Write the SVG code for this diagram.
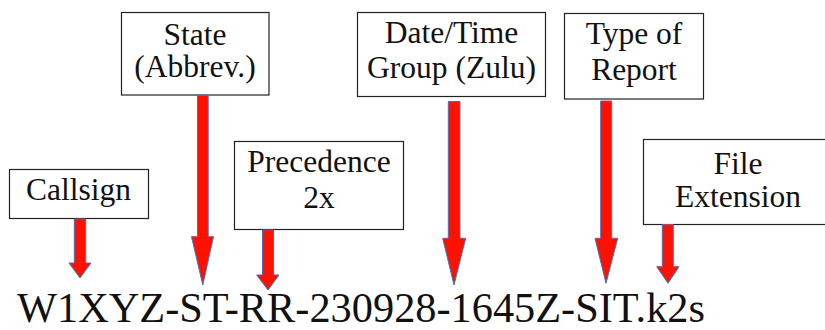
<svg xmlns="http://www.w3.org/2000/svg" width="825" height="330" viewBox="0 0 825 330">
<style>
.box{fill:#fff;stroke:#222;stroke-width:1.2}
.lbl{font-size:31.5px;fill:#111;text-anchor:middle}
.arr{fill:#ff1100;stroke:#4a6fb5;stroke-width:1}
.code{font-size:42px;fill:#111}
</style>
<rect width="825" height="330" fill="#fff"/>
<g font-family="'Liberation Serif', 'Times New Roman', serif">
<g id="callsign"><rect class="box" x="9.5" y="169.5" width="139" height="49"/><text class="lbl" x="78.5" y="199.5">Callsign</text></g>
<g id="state"><rect class="box" x="121.5" y="12.5" width="147.5" height="82.5"/><text class="lbl" x="195" y="44.5">State</text><text class="lbl" x="195" y="77">(Abbrev.)</text></g>
<g id="precedence"><rect class="box" x="234.5" y="141.5" width="169" height="88"/><text class="lbl" x="319" y="172">Precedence</text><text class="lbl" x="319" y="207.5">2x</text></g>
<g id="datetime"><rect class="box" x="357.5" y="12.5" width="188" height="84"/><text class="lbl" x="451.5" y="42.5">Date/Time</text><text class="lbl" x="451.5" y="77.5">Group (Zulu)</text></g>
<g id="reporttype"><rect class="box" x="564.5" y="13.5" width="139" height="85.5"/><text class="lbl" x="634" y="43.5">Type of</text><text class="lbl" x="634" y="80">Report</text></g>
<g id="extension"><rect class="box" x="643.5" y="139.5" width="200" height="85"/><text class="lbl" x="738" y="173.5">File</text><text class="lbl" x="738" y="207">Extension</text></g>
<g id="connectors">
<polygon class="arr" points="74.3,219 85.7,219 85.7,263 91,263 80,278 69,263 74.3,263"/>
<polygon class="arr" points="197.5,95.5 208.2,95.5 208.2,236.7 213.5,236.7 202.8,285 191.5,236.7 197.5,236.7"/>
<polygon class="arr" points="262.5,230 273.5,230 273.5,275 279,275 268,290 256.7,275 262.5,275"/>
<polygon class="arr" points="448.3,101.5 460,101.5 460,238.3 465.7,238.3 454,285 442.7,238.3 448.3,238.3"/>
<polygon class="arr" points="600.7,101 611.7,101 611.7,238.3 617.7,238.3 606,283.3 595,238.3 600.7,238.3"/>
<polygon class="arr" points="662.3,224.5 673.3,224.5 673.3,266.7 679,266.7 668,283.3 656.7,266.7 662.3,266.7"/>
</g>
<text class="code" x="17" y="322" textLength="688" lengthAdjust="spacingAndGlyphs">W1XYZ-ST-RR-230928-1645Z-SIT.k2s</text>
</g>
</svg>
